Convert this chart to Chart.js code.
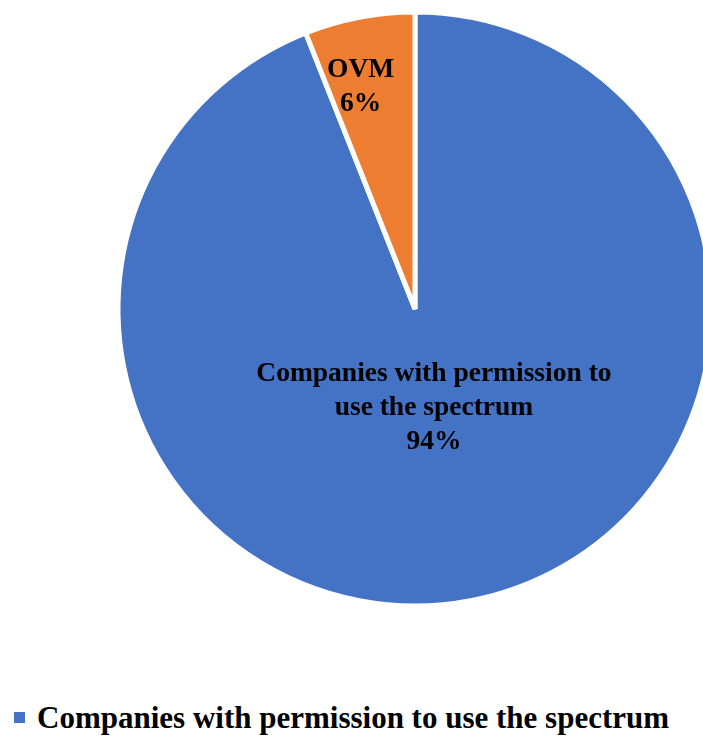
<!DOCTYPE html>
<html lang="en">
<head>
    <meta charset="UTF-8">
    <title>Spectrum use</title>
    <script src="https://cdn.jsdelivr.net/npm/chart.js"></script>
    <style>
        body {
            margin: 0;
            background: #ffffff;
            overflow: hidden;
            width: 703px;
            height: 736px;
            position: relative;
        }
        .wrap {
            position: absolute;
            left: 0;
            top: 0;
            width: 830px;
            height: 618px;
        }
        #legend {
            position: absolute;
            left: 14px;
            top: 702px;
            width: 689px;
            display: flex;
            flex-wrap: wrap;
            font: bold 31px "Liberation Serif", serif;
            line-height: 31px;
            color: #000000;
        }
        #legend .item {
            display: flex;
            align-items: center;
            margin-right: 14px;
        }
        #legend .box {
            width: 11px;
            height: 11px;
            margin-right: 12px;
        }
    </style>
</head>
<body>
<div class="wrap">
    <canvas id="pie" width="830" height="618"></canvas>
</div>
<div id="legend"></div>

<script>
    const categories = ['Companies with permission to use the spectrum', 'OVM'];
    const shares = [94, 6];
    const sliceColors = ['#4472C4', '#ED7D31'];
    // wrapped text for the labels inside the slices
    const sliceLabelLines = [
        ['Companies with permission to', 'use the spectrum', '94%'],
        ['OVM', '6%']
    ];
    const labelFont = 'bold 27.5px "Liberation Serif", serif';

    // writes the category and percentage on each slice
    const sliceLabels = {
        id: 'sliceLabels',
        afterDatasetsDraw(chart) {
            const ctx = chart.ctx;
            const meta = chart.getDatasetMeta(0);
            const spots = [{ f: 0.34, dx: 0 }, { f: 0.76, dx: -12 }];
            ctx.save();
            ctx.font = labelFont;
            ctx.fillStyle = '#000000';
            ctx.textAlign = 'center';
            ctx.textBaseline = 'middle';
            meta.data.forEach((arc, i) => {
                const p = arc.getProps(['x', 'y', 'startAngle', 'endAngle', 'outerRadius'], true);
                const mid = (p.startAngle + p.endAngle) / 2;
                const d = p.outerRadius * spots[i].f;
                const cx = p.x + Math.cos(mid) * d + spots[i].dx;
                const cy = p.y + Math.sin(mid) * d;
                const lines = sliceLabelLines[i];
                const lh = 34;
                lines.forEach((t, j) => {
                    ctx.fillText(t, cx, cy + (j - (lines.length - 1) / 2) * lh);
                });
            });
            ctx.restore();
        }
    };

    new Chart(document.getElementById('pie'), {
        type: 'pie',
        data: {
            labels: categories,
            datasets: [{
                data: shares,
                backgroundColor: sliceColors,
                borderColor: '#ffffff',
                borderWidth: 5
            }]
        },
        options: {
            responsive: false,
            animation: false,
            radius: 297,
            plugins: {
                tooltip: { enabled: false },
                legend: { display: false }
            }
        },
        plugins: [sliceLabels]
    });

    // legend under the pie, one entry per category
    const legend = document.getElementById('legend');
    categories.forEach((name, i) => {
        const item = document.createElement('span');
        item.className = 'item';
        item.innerHTML = `<span class="box" style="background:${sliceColors[i]}"></span>${name}`;
        legend.appendChild(item);
    });
</script>
</body>
</html>
